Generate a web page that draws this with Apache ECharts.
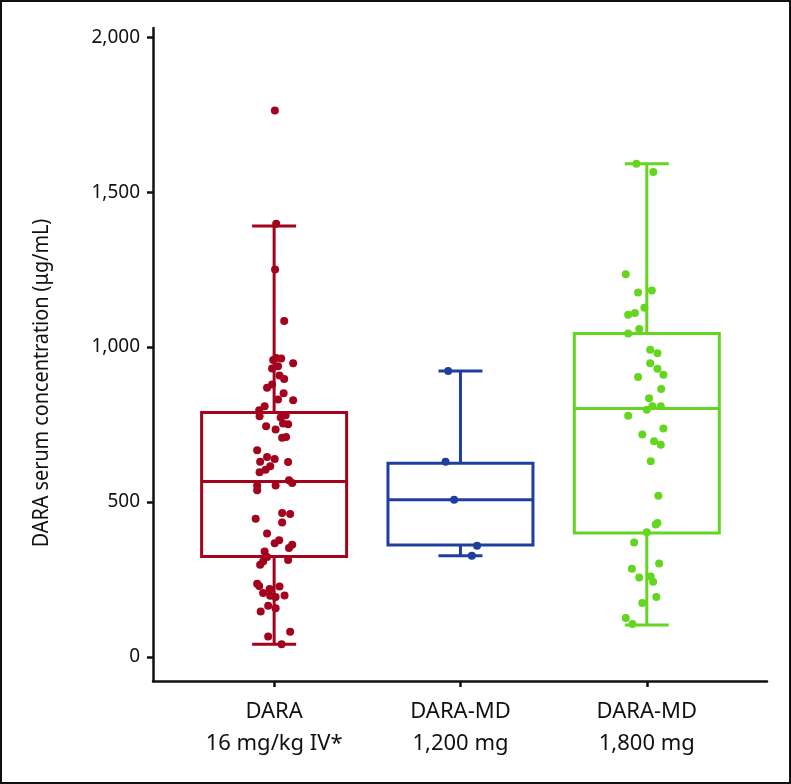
<!DOCTYPE html>
<html>
<head>
<meta charset="utf-8">
<script src="https://cdn.jsdelivr.net/npm/echarts@6/dist/echarts.min.js"></script>
<style>
html,body{margin:0;padding:0;background:#fff;}
#chart{width:791px;height:784px;}
</style>
</head>
<body>
<div id="chart"></div>
<script>
// ---------- data ----------
const categories = ['DARA\n16 mg/kg IV*', 'DARA-MD\n1,200 mg', 'DARA-MD\n1,800 mg'];
const categoryPositions = [1, 2, 3];
const yTicks = [0, 500, 1000, 1500, 2000];
const yTitle = 'DARA serum concentration (μg/mL)';

// box statistics: [min, Q1, median, Q3, max]
const boxDara16 = [41, 324, 566, 789, 1391];
const boxMd1200 = [326, 361, 507, 625, 923];
const boxMd1800 = [103, 400, 802, 1044, 1592];

// individual observations: [x (jittered around category), value]
const pointsDara16 = [
  [1.004,1764],[1.011,1398],[1.005,1250],[1.054,1084],[1.011,965],[1.038,963],[0.995,958],
  [1.102,948],[1.021,938],[0.989,931],[1.029,908],[1.054,897],[0.989,879],[0.962,869],
  [1.051,851],[1.021,831],[1.102,828],[0.949,809],[0.920,796],[0.922,777],[1.035,773],
  [1.062,780],[1.048,753],[1.075,751],[0.957,744],[1.008,734],[1.043,707],[1.064,710],
  [0.909,667],[0.962,645],[1.003,639],[0.925,630],[1.075,629],[0.979,615],[0.954,604],
  [0.922,596],[1.080,570],[1.097,561],[0.909,553],[1.008,553],[0.909,538],[0.901,446],
  [1.043,464],[1.086,461],[1.043,434],[0.962,398],[1.003,367],[1.027,376],[1.080,351],
  [1.097,362],[0.949,340],[0.962,322],[1.075,313],[0.941,308],[0.925,297],[0.909,236],
  [0.920,229],[1.029,227],[0.976,219],[0.941,206],[0.979,197],[1.008,193],[1.056,198],
  [0.968,165],[1.008,157],[0.928,146],[0.968,66],[1.086,81],[1.040,41]
];
const pointsMd1200 = [
  [1.934,923],[1.920,630],[1.966,507],[2.089,359],[2.061,326]
];
const pointsMd1800 = [
  [2.944,1592],[3.035,1565],[2.887,1235],[2.953,1176],[3.027,1183],[2.987,1127],[2.900,1104],
  [2.936,1110],[2.900,1044],[2.959,1058],[3.018,991],[3.057,980],[3.018,948],[3.057,930],
  [3.089,911],[2.953,903],[3.077,865],[3.012,835],[3.030,809],[3.075,809],[3.000,798],
  [2.900,778],[3.089,737],[2.976,718],[3.039,696],[3.075,685],[3.021,631],[3.062,520],
  [3.057,432],[3.048,427],[3.000,402],[2.932,369],[3.066,301],[2.920,284],[2.959,256],
  [3.021,259],[3.034,242],[3.051,193],[2.976,174],[2.887,125],[2.923,106]
];

// ---------- styles ----------
const colors = ['#A3031C', '#1F3E9E', '#64D61F'];
const BOX_W = 145;
const CAP_W = 44;
const LINE_W = 3;

const boxData = [boxDara16, boxMd1200, boxMd1800].map((b, i) => [categoryPositions[i]].concat(b));

function renderBox(params, api) {
  const x = api.value(0);
  const c = v => api.coord([x, v]);
  const pMin = c(api.value(1)), pQ1 = c(api.value(2)), pMed = c(api.value(3)),
        pQ3 = c(api.value(4)), pMax = c(api.value(5));
  const cx = pMin[0];
  const hb = BOX_W / 2, hc = CAP_W / 2;
  const stroke = colors[params.dataIndex];
  const st = { stroke: stroke, lineWidth: LINE_W, fill: null };
  const line = (x1, y1, x2, y2) => ({ type: 'line', shape: { x1, y1, x2, y2 }, style: st });
  return {
    type: 'group',
    children: [
      { type: 'rect', shape: { x: cx - hb, y: pQ3[1], width: 2 * hb, height: pQ1[1] - pQ3[1] },
        style: { stroke: stroke, lineWidth: LINE_W, fill: 'rgba(0,0,0,0)' } },
      line(cx - hb, pMed[1], cx + hb, pMed[1]),
      line(cx, pQ3[1], cx, pMax[1]),
      line(cx, pQ1[1], cx, pMin[1]),
      line(cx - hc, pMax[1], cx + hc, pMax[1]),
      line(cx - hc, pMin[1], cx + hc, pMin[1])
    ]
  };
}

const chart = echarts.init(document.getElementById('chart'), null, { renderer: 'canvas' });
const axisColor = '#111';
const option = {
  animation: false,
  backgroundColor: '#fff',
  grid: { left: 153, right: 24, top: 28, bottom: 103 },
  xAxis: {
    type: 'value',
    min: 0.35,
    max: 3.645,
    splitLine: { show: false },
    axisLine: { show: true, onZero: false, lineStyle: { color: axisColor, width: 2.5 } },
    axisTick: { show: true, customValues: categoryPositions, length: 6, lineStyle: { color: axisColor, width: 2.5 } },
    axisLabel: {
      customValues: categoryPositions,
      formatter: v => categories[categoryPositions.indexOf(Math.round(v))] || '',
      color: '#111',
      fontFamily: 'Noto Sans',
      fontSize: 22,
      lineHeight: 32,
      margin: 15
    }
  },
  yAxis: {
    type: 'value',
    min: -78,
    max: 2030,
    splitLine: { show: false },
    axisLine: { show: true, onZero: false, lineStyle: { color: axisColor, width: 2.5 } },
    axisTick: { show: true, customValues: yTicks, length: 6, lineStyle: { color: axisColor, width: 2.5 } },
    axisLabel: {
      customValues: yTicks,
      formatter: v => v.toLocaleString('en-US'),
      color: '#111',
      fontFamily: 'Noto Sans',
      fontSize: 19,
      margin: 13
    }
  },
  graphic: [
    { type: 'rect', shape: { x: 1, y: 1, width: 789, height: 782 },
      style: { stroke: '#111', lineWidth: 2, fill: 'rgba(0,0,0,0)' }, z: 100 },
    { type: 'text', x: 42, y: 383, rotation: Math.PI / 2, scaleX: 0.9,
      style: { text: yTitle, align: 'center', verticalAlign: 'middle',
               font: '22px "Noto Sans", sans-serif', fill: '#111' } }
  ],
  series: [
    { type: 'custom', renderItem: renderBox, data: boxData, z: 2, silent: true,
      encode: { x: 0, y: [1, 2, 3, 4, 5] } },
    { type: 'scatter', data: pointsDara16, symbolSize: 8, itemStyle: { color: colors[0], opacity: 1 }, z: 3, silent: true },
    { type: 'scatter', data: pointsMd1200, symbolSize: 8, itemStyle: { color: colors[1], opacity: 1 }, z: 3, silent: true },
    { type: 'scatter', data: pointsMd1800, symbolSize: 8, itemStyle: { color: colors[2], opacity: 1 }, z: 3, silent: true }
  ]
};
chart.setOption(option);
</script>
</body>
</html>
